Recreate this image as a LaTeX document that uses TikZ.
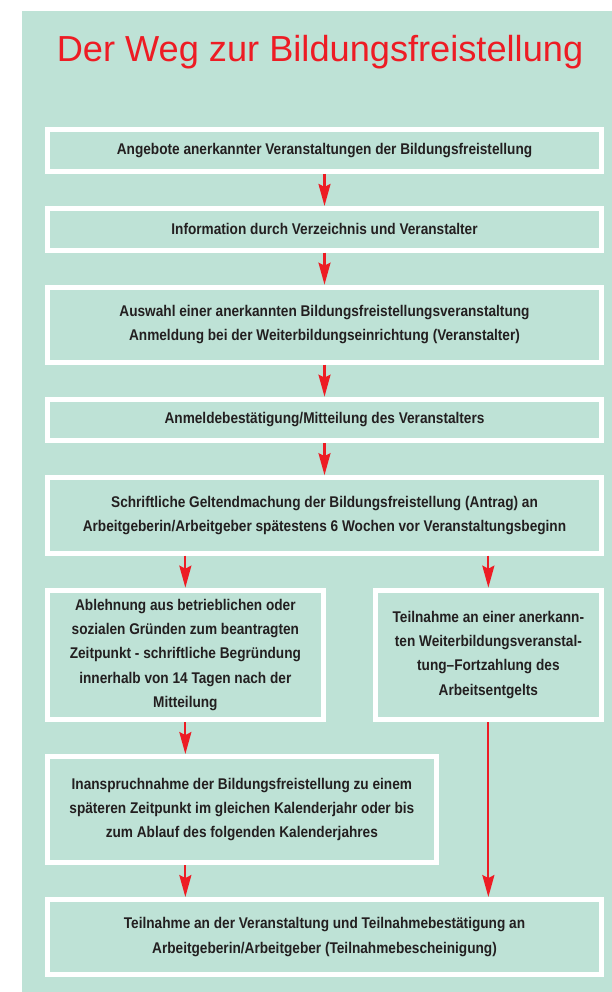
\documentclass[tikz,border=0pt]{standalone}
\usepackage{fontspec}
\setmainfont{Liberation Sans}
\newfontfamily\condfont[FakeStretch=0.88]{Liberation Sans}
\usepackage{xcolor}
\usetikzlibrary{arrows.meta, positioning}

\definecolor{mint}{HTML}{BEE2D6}
\definecolor{headred}{HTML}{ED1C24}
\definecolor{inkgray}{HTML}{231F20}

\begin{document}
\begin{tikzpicture}[
    x=1pt, y=-1pt,
    node distance=32pt,
    stepbox/.style={rectangle, draw=white, line width=5pt, fill=mint, minimum width=554.3pt, align=center, text=inkgray, font={\condfont\bfseries\fontsize{15.5}{24.2}\selectfont}, inner sep=0pt},
    arrow/.style={-{Stealth[length=22pt, width=12pt, inset=3pt]}, draw=headred, line width=2.2pt}
]

% Page and background panel
\useasboundingbox (0,0) rectangle (612,992);
\fill[mint] (22,11) rectangle (612,992);

% Title
\node[font={\fontsize{36.2}{40}\selectfont}, text=headred, anchor=base] (title) at (320,61.7) {Der Weg zur Bildungsfreistellung};

% Main column
\node[stepbox, minimum height=42.3pt] (offer) at (324.5,150.3) {Angebote anerkannter Veranstaltungen der Bildungsfreistellung};
\node[stepbox, minimum height=41.7pt, below=of offer] (info) {Information durch Verzeichnis und Veranstalter};
\node[stepbox, minimum height=75pt, below=of info] (choice) {Auswahl einer anerkannten Bildungsfreistellungsveranstaltung\\Anmeldung bei der Weiterbildungseinrichtung (Veranstalter)};
\node[stepbox, minimum height=41.5pt, below=of choice] (confirm) {Anmeldebestätigung/Mitteilung des Veranstalters};
\node[stepbox, minimum height=75.5pt, below=of confirm] (apply) {Schriftliche Geltendmachung der Bildungsfreistellung (Antrag) an\\Arbeitgeberin/Arbeitgeber spätestens 6 Wochen vor Veranstaltungsbeginn};

% Two branches
\node[stepbox, minimum width=276pt, minimum height=129.4pt, below right=32pt and 0pt of apply.south west] (refuse) {Ablehnung aus betrieblichen oder\\sozialen Gründen zum beantragten\\Zeitpunkt - schriftliche Begründung\\innerhalb von 14 Tagen nach der\\Mitteilung};
\node[stepbox, minimum width=226.6pt, minimum height=129.4pt, below left=32pt and 0pt of apply.south east] (attend) {Teilnahme an einer anerkann-\\ten Weiterbildungsveranstal-\\tung–Fortzahlung des\\Arbeitsentgelts};
\node[stepbox, minimum width=389pt, minimum height=106pt, below right=32pt and 0pt of refuse.south west] (later) {Inanspruchnahme der Bildungsfreistellung zu einem\\späteren Zeitpunkt im gleichen Kalenderjahr oder bis\\zum Ablauf des folgenden Kalenderjahres};

% Final step
\node[stepbox, minimum height=75pt, below right=32pt and 0pt of later.south west] (final) {Teilnahme an der Veranstaltung und Teilnahmebestätigung an\\Arbeitgeberin/Arbeitgeber (Teilnahmebescheinigung)};

% Connections
\draw[arrow] (offer) -- (info);
\draw[arrow] (info) -- (choice);
\draw[arrow] (choice) -- (confirm);
\draw[arrow] (confirm) -- (apply);
\draw[arrow] (refuse.north |- apply.south) -- (refuse.north);
\draw[arrow] (attend.north |- apply.south) -- (attend.north);
\draw[arrow] (refuse) -- (refuse.south |- later.north);
\draw[arrow] (refuse.south |- later.south) -- (refuse.south |- final.north);
\draw[arrow] (attend) -- (attend.south |- final.north);

\end{tikzpicture}
\end{document}
